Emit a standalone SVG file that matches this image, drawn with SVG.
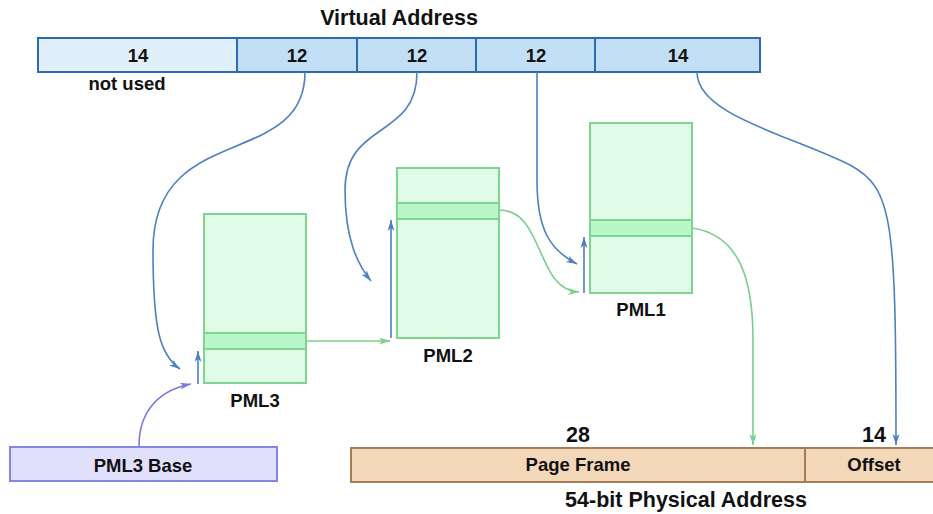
<svg xmlns="http://www.w3.org/2000/svg" width="933" height="514" viewBox="0 0 933 514">
<style>
text{font-family:"Liberation Sans",Arial,sans-serif;font-weight:bold;fill:#111;text-anchor:middle}
.va{stroke:#2b6cb0;stroke-width:2}
.t{font-size:18.5px}
.h{font-size:21.5px}
.pml{fill:#e0fbe6;stroke:#7fd48f;stroke-width:2}
.row{fill:#b9f7c8;stroke:#7fd48f;stroke-width:2}
.bl{fill:none;stroke:#4d80bf;stroke-width:1.6}
.gr{fill:none;stroke:#78d08a;stroke-width:1.6}
.pu{fill:none;stroke:#7a78e0;stroke-width:1.6}
</style>
<defs>
<marker id="ab" markerWidth="12" markerHeight="8" refX="11" refY="4" orient="auto" markerUnits="userSpaceOnUse"><path d="M0,0.5 L11,4 L0,7.5 L3,4 Z" fill="#4d80bf"/></marker>
<marker id="ag" markerWidth="12" markerHeight="8" refX="11" refY="4" orient="auto" markerUnits="userSpaceOnUse"><path d="M0,0.5 L11,4 L0,7.5 L3,4 Z" fill="#78d08a"/></marker>
<marker id="ap" markerWidth="12" markerHeight="8" refX="11" refY="4" orient="auto" markerUnits="userSpaceOnUse"><path d="M0,0.5 L11,4 L0,7.5 L3,4 Z" fill="#7a78e0"/></marker>
</defs>

<g id="virtual-address">
<text class="h" x="399" y="25">Virtual Address</text>
<rect class="va" x="38" y="38" width="199" height="34" fill="#e1effb"/>
<rect class="va" x="237" y="38" width="120" height="34" fill="#c2dff6"/>
<rect class="va" x="357" y="38" width="119" height="34" fill="#c2dff6"/>
<rect class="va" x="476" y="38" width="119" height="34" fill="#c2dff6"/>
<rect class="va" x="595" y="38" width="165" height="34" fill="#c2dff6"/>
<text class="t" x="138" y="62">14</text>
<text class="t" x="297" y="62">12</text>
<text class="t" x="417" y="62">12</text>
<text class="t" x="536" y="62">12</text>
<text class="t" x="678" y="62">14</text>
<text class="t" x="127" y="90">not used</text>
</g>

<g id="pml3">
<rect class="pml" x="204" y="214" width="102" height="169"/>
<rect class="row" x="204" y="333" width="102" height="16"/>
<text class="t" x="255" y="407">PML3</text>
</g>
<g id="pml2">
<rect class="pml" x="397" y="168" width="102" height="170"/>
<rect class="row" x="397" y="203" width="102" height="16"/>
<text class="t" x="448" y="362">PML2</text>
</g>
<g id="pml1">
<rect class="pml" x="590" y="123" width="102" height="170"/>
<rect class="row" x="590" y="220" width="102" height="16"/>
<text class="t" x="641" y="316">PML1</text>
</g>

<g id="pml3-base">
<rect x="10" y="447" width="267" height="34" fill="#e0e0fc" stroke="#8585e6" stroke-width="2"/>
<text class="t" x="143" y="472">PML3 Base</text>
</g>

<g id="physical-address">
<rect x="351" y="448" width="454" height="34" fill="#f3d7b9" stroke="#a47c56" stroke-width="2"/>
<rect x="805" y="448" width="140" height="34" fill="#f3d7b9" stroke="#a47c56" stroke-width="2"/>
<text class="t" x="578" y="471">Page Frame</text>
<text class="t" x="874" y="471">Offset</text>
<text class="h" x="578" y="442">28</text>
<text class="h" x="874" y="442">14</text>
<text class="h" x="686" y="507">54-bit Physical Address</text>
</g>

<g id="connectors">
<path class="bl" d="M305,72 C305,170 153,120 153,250 C153,330 160,355 180,369" marker-end="url(#ab)"/>
<path class="bl" d="M417,72 C417,140 345,120 345,190 C345,240 358,265 371,281" marker-end="url(#ab)"/>
<path class="bl" d="M537,72 L537,180 C537,230 550,250 577,264" marker-end="url(#ab)"/>
<path class="bl" d="M697,72 C697,115 790,135 850,165 C893,188 896,220 896,445" marker-end="url(#ab)"/>
<path class="bl" d="M198,384 L198,351" marker-end="url(#ab)"/>
<path class="bl" d="M391,338 L391,220" marker-end="url(#ab)"/>
<path class="bl" d="M584,293 L584,237" marker-end="url(#ab)"/>
<path class="gr" d="M306,341 L390,341" marker-end="url(#ag)"/>
<path class="gr" d="M499,210 C545,210 535,290 579,292" marker-end="url(#ag)"/>
<path class="gr" d="M692,228 C740,235 753,280 753,340 L753,445" marker-end="url(#ag)"/>
<path class="pu" d="M139,446 C139,410 160,390 191,384" marker-end="url(#ap)"/>
</g>
</svg>
